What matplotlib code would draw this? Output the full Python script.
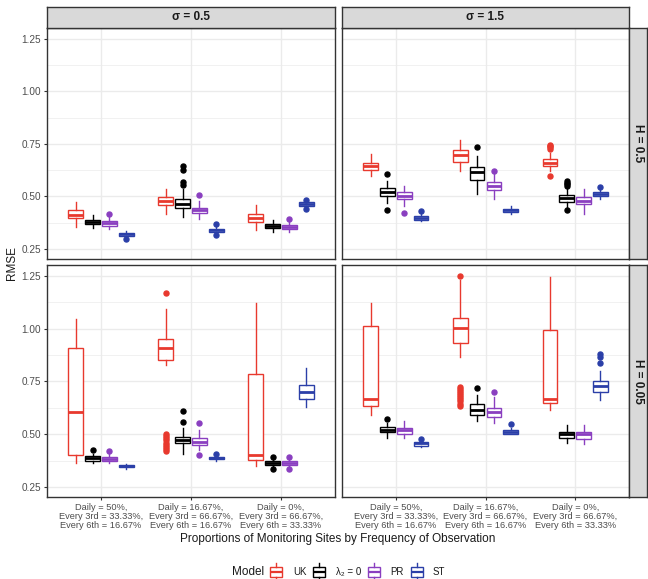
import matplotlib
matplotlib.use("Agg")
import matplotlib.pyplot as plt
from matplotlib.patches import Rectangle
import numpy as np

plt.rcParams['font.family'] = ['Liberation Sans', 'DejaVu Sans']

# ---------------- data ----------------
groups = ["Daily = 50%,\nEvery 3rd = 33.33%,\nEvery 6th = 16.67%",
          "Daily = 16.67%,\nEvery 3rd = 66.67%,\nEvery 6th = 16.67%",
          "Daily = 0%,\nEvery 3rd = 66.67%,\nEvery 6th = 33.33%"]
models = ["UK", "λ₂ = 0", "PR", "ST"]
model_colors = ["#E8392E", "#000000", "#8A3FC0", "#2B3FA8"]
col_labels = ["σ = 0.5", "σ = 1.5"]
row_labels = ["H = 0.5", "H = 0.05"]
y_ticks = [0.25, 0.50, 0.75, 1.00, 1.25]

# each box: (whislo, q1, med, q3, whishi, [fliers])
# panel sigma=0.5, H=0.5
s05_h05 = [
    [(0.355, 0.398, 0.413, 0.433, 0.474, []),
     (0.350, 0.369, 0.380, 0.390, 0.413, []),
     (0.345, 0.361, 0.374, 0.385, 0.405, [0.417]),
     (0.306, 0.313, 0.320, 0.326, 0.334, [0.298])],
    [(0.417, 0.461, 0.479, 0.498, 0.536, []),
     (0.402, 0.445, 0.466, 0.488, 0.533, [0.644, 0.628, 0.567, 0.555]),
     (0.393, 0.420, 0.434, 0.445, 0.477, [0.509]),
     (0.323, 0.331, 0.340, 0.347, 0.361, [0.371, 0.315])],
    [(0.342, 0.377, 0.398, 0.417, 0.461, []),
     (0.331, 0.348, 0.360, 0.371, 0.390, []),
     (0.331, 0.344, 0.355, 0.364, 0.377, [0.391]),
     (0.446, 0.453, 0.463, 0.472, 0.478, [0.485, 0.440])],
]
# panel sigma=1.5, H=0.5
s15_h05 = [
    [(0.596, 0.625, 0.644, 0.660, 0.704, []),
     (0.469, 0.501, 0.520, 0.539, 0.575, [0.607, 0.434]),
     (0.456, 0.488, 0.501, 0.520, 0.552, [0.421]),
     (0.382, 0.390, 0.398, 0.406, 0.421, [0.431])],
    [(0.620, 0.666, 0.699, 0.723, 0.771, []),
     (0.513, 0.580, 0.615, 0.639, 0.691, [0.733]),
     (0.490, 0.529, 0.548, 0.569, 0.607, [0.620]),
     (0.417, 0.425, 0.434, 0.442, 0.453, [])],
    [(0.620, 0.644, 0.661, 0.679, 0.707, [0.747, 0.739, 0.733, 0.726, 0.596]),
     (0.445, 0.475, 0.491, 0.507, 0.540, [0.572, 0.565, 0.558, 0.552, 0.434]),
     (0.418, 0.463, 0.480, 0.498, 0.533, []),
     (0.488, 0.501, 0.512, 0.521, 0.533, [0.545])],
]
# panel sigma=0.5, H=0.05
s05_h005 = [
    [(0.365, 0.400, 0.604, 0.907, 1.044, []),
     (0.365, 0.375, 0.386, 0.396, 0.408, [0.424]),
     (0.364, 0.373, 0.383, 0.392, 0.408, [0.421]),
     (0.337, 0.342, 0.348, 0.354, 0.358, [])],
    [(0.826, 0.851, 0.907, 0.951, 1.092,
      [1.168, 0.500, 0.490, 0.480, 0.470, 0.460, 0.450, 0.440, 0.430, 0.421]),
     (0.408, 0.456, 0.472, 0.487, 0.527, [0.559, 0.609]),
     (0.424, 0.448, 0.464, 0.483, 0.519, [0.551, 0.400]),
     (0.372, 0.380, 0.386, 0.392, 0.400, [0.405])],
    [(0.348, 0.377, 0.400, 0.785, 1.120, []),
     (0.337, 0.354, 0.364, 0.373, 0.385, [0.392, 0.337]),
     (0.337, 0.353, 0.364, 0.372, 0.385, [0.392, 0.337]),
     (0.627, 0.669, 0.699, 0.733, 0.812, [])],
]
# panel sigma=1.5, H=0.05
s15_h005 = [
    [(0.590, 0.634, 0.665, 1.013, 1.123, []),
     (0.484, 0.508, 0.522, 0.535, 0.554, [0.573]),
     (0.484, 0.503, 0.519, 0.530, 0.563, []),
     (0.440, 0.446, 0.456, 0.462, 0.468, [0.475])],
    [(0.864, 0.934, 1.005, 1.052, 1.231,
      [1.250, 0.725, 0.715, 0.705, 0.695, 0.685, 0.675, 0.665, 0.655, 0.645, 0.635]),
     (0.560, 0.593, 0.614, 0.641, 0.685, [0.717]),
     (0.551, 0.582, 0.604, 0.625, 0.677, [0.698]),
     (0.500, 0.500, 0.509, 0.519, 0.528, [0.547])],
    [(0.614, 0.646, 0.669, 0.994, 1.244, []),
     (0.459, 0.481, 0.500, 0.511, 0.543, []),
     (0.455, 0.479, 0.500, 0.508, 0.543, []),
     (0.661, 0.701, 0.728, 0.752, 0.799, [0.880, 0.867, 0.835])],
]
panels = [[s05_h05, s15_h05], [s05_h005, s15_h005]]

# ---------------- figure ----------------
W, H = 648, 579
fig = plt.figure(figsize=(W / 100, H / 100), dpi=100)

def fx(px):
    return px / W

def fy(py):
    return 1 - py / H

col_x = [(47, 335), (342, 629)]
row_y = [(28, 259), (265, 497)]
strip_col = "#D9D9D9"
edge_col = "#333333"
grid_col = "#EBEBEB"

dodge = 0.75 / 4
box_w = 0.165

for r in range(2):
    for c in range(2):
        x0, x1 = col_x[c]
        y0, y1 = row_y[r]
        ax = fig.add_axes([fx(x0), fy(y1), fx(x1) - fx(x0), fy(y0) - fy(y1)])
        ax.set_xlim(0.4, 3.6)
        ax.set_ylim(0.202, 1.302)
        # grid
        for v in y_ticks:
            ax.axhline(v, color=grid_col, lw=1.0, zorder=0)
        for v in np.arange(0.375, 1.3, 0.25):
            ax.axhline(v, color=grid_col, lw=0.5, zorder=0)
        for g in range(3):
            ax.axvline(g + 1, color=grid_col, lw=1.0, zorder=0)
        data = panels[r][c]
        for g in range(3):
            for m in range(4):
                wl, q1, med, q3, wh, fl = data[g][m]
                st = dict(whislo=wl, q1=q1, med=med, q3=q3, whishi=wh, fliers=fl)
                pos = g + 1 + (m - 1.5) * dodge
                col = model_colors[m]
                ax.bxp([st], positions=[pos], widths=box_w, showcaps=False,
                       patch_artist=True,
                       boxprops=dict(facecolor="white", edgecolor=col, lw=1.0),
                       medianprops=dict(color=col, lw=2.0, solid_capstyle="butt"),
                       whiskerprops=dict(color=col, lw=1.0),
                       flierprops=dict(marker="o", markerfacecolor=col,
                                       markeredgecolor=col, markersize=3.6),
                       manage_ticks=False, zorder=3)
        for sp in ax.spines.values():
            sp.set_color(edge_col)
            sp.set_linewidth(1.0)
        ax.set_xticks([1, 2, 3])
        ax.set_yticks(y_ticks)
        ax.tick_params(axis="both", length=2.5, width=0.8, color=edge_col,
                       labelcolor="#4D4D4D", labelsize=7.2, pad=2)
        if c == 0:
            ax.set_yticklabels([f"{v:.2f}" for v in y_ticks])
        else:
            ax.tick_params(axis="y", left=False, labelleft=False)
        if r == 1:
            ax.set_xticklabels(groups, fontsize=6.7, linespacing=1.0)
        else:
            ax.tick_params(axis="x", bottom=False, labelbottom=False)

# strips
for c in range(2):
    x0, x1 = col_x[c]
    sax = fig.add_axes([fx(x0), fy(28), fx(x1) - fx(x0), fy(7) - fy(28)])
    sax.set_facecolor(strip_col)
    sax.set_xticks([]); sax.set_yticks([])
    for sp in sax.spines.values():
        sp.set_color(edge_col); sp.set_linewidth(1.0)
    sax.text(0.5, 0.5, col_labels[c], ha="center", va="center",
             fontsize=8.5, fontweight="bold", color="#1A1A1A",
             transform=sax.transAxes)
for r in range(2):
    y0, y1 = row_y[r]
    sax = fig.add_axes([fx(629), fy(y1), fx(647) - fx(629), fy(y0) - fy(y1)])
    sax.set_facecolor(strip_col)
    sax.set_xticks([]); sax.set_yticks([])
    for sp in sax.spines.values():
        sp.set_color(edge_col); sp.set_linewidth(1.0)
    sax.text(0.5, 0.5, row_labels[r], ha="center", va="center", rotation=-90,
             fontsize=8.5, fontweight="bold", color="#1A1A1A",
             transform=sax.transAxes)

# axis titles
fig.text(fx(12), fy((28 + 497) / 2), "RMSE", rotation=90, ha="center",
         va="center", fontsize=8.5, color="#1A1A1A")
fig.text(fx(338), fy(539), "Proportions of Monitoring Sites by Frequency of Observation",
         ha="center", va="center", fontsize=8.5, color="#1A1A1A")

# legend
lax = fig.add_axes([0, 0, 1, 1])
lax.set_xlim(0, W); lax.set_ylim(H, 0)
lax.axis("off")
lax.text(232, 572, "Model", ha="left", va="center", fontsize=8.5, color="#1A1A1A")
key_x = [276, 319, 374, 417]
lab_x = [293, 336, 390, 433]
for k in range(4):
    col = model_colors[k]
    cx = key_x[k]
    lax.add_patch(Rectangle((cx - 6, 567), 12, 10, facecolor="white",
                            edgecolor=col, lw=1.0))
    lax.plot([cx - 6, cx + 6], [572, 572], color=col, lw=1.6, solid_capstyle="butt")
    lax.plot([cx, cx], [563, 567], color=col, lw=1.0)
    lax.plot([cx, cx], [577, 581], color=col, lw=1.0)
    lax.text(lab_x[k], 572, models[k], ha="left", va="center",
             fontsize=7.0, color="#1A1A1A")

fig.savefig("out.png", dpi=100)
